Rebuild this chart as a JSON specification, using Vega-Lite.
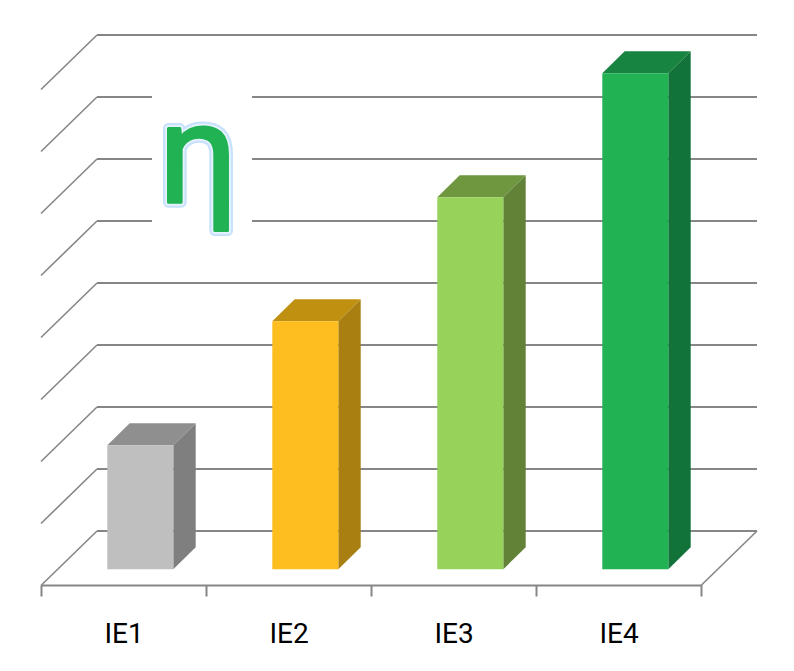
{
"$schema":"https://vega.github.io/schema/vega-lite/v6.json",
"width":701,"height":585,
"autosize":{"type":"none"},
"padding":{"left":0,"top":0,"right":93,"bottom":86},
"background":"white",
"datasets":{
"bars":[{"category":"IE1","value":2},{"category":"IE2","value":4},{"category":"IE3","value":6},{"category":"IE4","value":8}],
"levels":[{"level":0},{"level":1},{"level":2},{"level":3},{"level":4},{"level":5},{"level":6},{"level":7},{"level":8}],
"floor":[{"edge":"right"}],
"backdrop":[{"note":"title backdrop"}],
"title_mark":[{"label":"η"}]
},
"config":{"view":{"stroke":null}},
"encoding":{
"x":{"field":"X","type":"quantitative","title":null,
"scale":{"domain":[0,4],"range":[41,701],"nice":false,"zero":false},
"axis":{"values":[0,0.5,1,1.5,2,2.5,3,3.5,4],"grid":false,"domainColor":"#868686","domainWidth":2,"tickColor":"#868686","tickWidth":2,"tickSize":11,
"tickOpacity":{"condition":{"test":"datum.value%1==0","value":1},"value":0},
"labelExpr":"datum.value%1==0.5 ? ['IE1','IE2','IE3','IE4'][floor(datum.value)] : ''",
"labelFont":"Roboto","labelFontSize":28,"labelColor":"#000000","labelPadding":24,"labelAngle":0,"labelOverlap":false,"labelFlush":false,"labelBound":false}},
"y":{"field":"Y","type":"quantitative","title":null,"axis":null,
"scale":{"domain":[0,8],"range":[585.5,89.5],"nice":false,"zero":false}}
},
"layer":[
{"data":{"name":"levels"},
"transform":[{"calculate":"56/165","as":"X"},{"calculate":"4+56/165","as":"X2"},{"calculate":"datum.level+54.5/62","as":"Y"}],
"mark":{"type":"rule","color":"#868686","strokeWidth":2},
"encoding":{"x2":{"field":"X2"}}},
{"data":{"name":"levels"},
"transform":[{"calculate":"0","as":"X"},{"calculate":"56/165","as":"X2"},{"calculate":"datum.level","as":"Y"},{"calculate":"datum.level+54.5/62","as":"Y2"}],
"mark":{"type":"rule","color":"#868686","strokeWidth":1.6},
"encoding":{"x2":{"field":"X2"},"y2":{"field":"Y2"}}},
{"data":{"name":"floor"},
"transform":[{"calculate":"4","as":"X"},{"calculate":"4+56/165","as":"X2"},{"calculate":"0","as":"Y"},{"calculate":"54.5/62","as":"Y2"}],
"mark":{"type":"rule","color":"#868686","strokeWidth":1.6},
"encoding":{"x2":{"field":"X2"},"y2":{"field":"Y2"}}},
{"data":{"name":"backdrop"},
"transform":[{"calculate":"0.673","as":"X"},{"calculate":"1.279","as":"X2"},{"calculate":"5.41","as":"Y"},{"calculate":"8.39","as":"Y2"}],
"mark":{"type":"rect","color":"white"},
"encoding":{"x2":{"field":"X2"},"y2":{"field":"Y2"}}},
{"data":{"name":"title_mark"},
"transform":[{"calculate":"0.952","as":"X"},{"calculate":"6.18","as":"Y"}],
"mark":{"type":"text","font":"Roboto","fontSize":140,"align":"center","baseline":"alphabetic","fill":"#BBDCFB","stroke":"#BBDCFB","strokeWidth":11,"strokeJoin":"round","opacity":0.8},
"encoding":{"text":{"field":"label"}}},
{"data":{"name":"title_mark"},
"transform":[{"calculate":"0.952","as":"X"},{"calculate":"6.18","as":"Y"}],
"mark":{"type":"text","font":"Roboto","fontSize":140,"align":"center","baseline":"alphabetic","fill":"#E6F3FF","stroke":"#E6F3FF","strokeWidth":6.5,"strokeJoin":"round"},
"encoding":{"text":{"field":"label"}}},
{"data":{"name":"title_mark"},
"transform":[{"calculate":"0.952","as":"X"},{"calculate":"6.18","as":"Y"}],
"mark":{"type":"text","font":"Roboto","fontSize":140,"align":"center","baseline":"alphabetic","fill":"#21B254","stroke":"#21B254","strokeWidth":3,"strokeJoin":"round"},
"encoding":{"text":{"field":"label"}}},
{"data":{"name":"bars"},
"transform":[{"calculate":"indexof(['IE1','IE2','IE3','IE4'],datum.category)","as":"i"},{"calculate":"[0.3,0.7]","as":"d"},{"flatten":["d"]},
{"calculate":"datum.i+0.7+datum.d*56/165","as":"X"},{"calculate":"datum.value+datum.d*54.5/62","as":"Y"},{"calculate":"datum.d*54.5/62","as":"Y2"}],
"mark":{"type":"area","orient":"vertical","opacity":1},
"encoding":{"y2":{"field":"Y2"},"color":{"field":"category","type":"nominal","legend":null,"scale":{"domain":["IE1","IE2","IE3","IE4"],"range":["#7F7F7F","#A87F10","#628237","#12733A"]}}}},
{"data":{"name":"bars"},
"transform":[{"calculate":"indexof(['IE1','IE2','IE3','IE4'],datum.category)","as":"i"},{"calculate":"[0.3,0.7]","as":"d"},{"flatten":["d"]},
{"calculate":"datum.i+0.3+datum.d*56/165","as":"X"},{"calculate":"datum.i+0.7+datum.d*56/165","as":"X2"},{"calculate":"datum.value+datum.d*54.5/62","as":"Y"}],
"mark":{"type":"area","orient":"horizontal","opacity":1},
"encoding":{"x2":{"field":"X2"},"color":{"field":"category","type":"nominal","legend":null,"scale":{"domain":["IE1","IE2","IE3","IE4"],"range":["#8F8F8F","#C09010","#6E973F","#178541"]}}}},
{"data":{"name":"bars"},
"transform":[{"calculate":"indexof(['IE1','IE2','IE3','IE4'],datum.category)","as":"i"},
{"calculate":"datum.i+0.3+0.3*56/165","as":"X"},{"calculate":"datum.i+0.7+0.3*56/165","as":"X2"},{"calculate":"datum.value+0.3*54.5/62","as":"Y"},{"calculate":"0.3*54.5/62","as":"Y2"}],
"mark":{"type":"rect"},
"encoding":{"x2":{"field":"X2"},"y2":{"field":"Y2"},"color":{"field":"category","type":"nominal","legend":null,"scale":{"domain":["IE1","IE2","IE3","IE4"],"range":["#BFBFBF","#FFBE20","#97D25A","#21B254"]}}}}
],
"resolve":{"scale":{"color":"independent"}}
}
